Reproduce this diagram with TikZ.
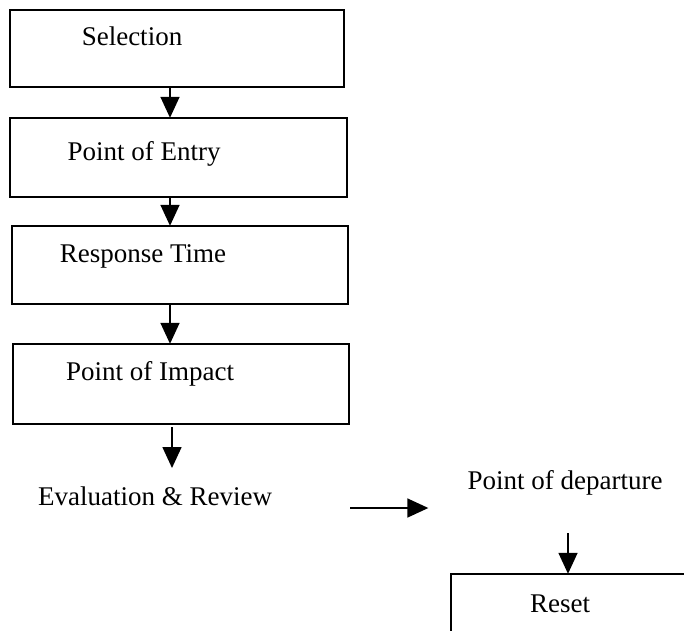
\documentclass[tikz,border=0pt]{standalone}
\usepackage{fontspec}
\setmainfont{Liberation Serif}
\usetikzlibrary{arrows.meta,calc}
\begin{document}
\begin{tikzpicture}[x=1pt,y=-1pt,
  box/.style={draw=black,line width=2.2pt,fill=none},
  lbl/.style={inner sep=0pt,font=\fontsize{27}{32}\selectfont,anchor=base},
  arr/.style={line width=1.6pt,-{Triangle[length=21pt,width=19pt]}}]
\useasboundingbox (0,0) rectangle (684,630);
\clip (0,0) rectangle (684,630);
% boxes
\draw[box] (10,10) rectangle (344,87);
\draw[box] (10,118) rectangle (347,197);
\draw[box] (12,226) rectangle (348,304);
\draw[box] (13,344) rectangle (349,424);
\draw[box] (451,574) rectangle (700,660);
% box anchors for connectors
\node[inner sep=0pt,minimum width=334pt,minimum height=77pt] (sel) at (177,48.5) {};
\node[inner sep=0pt,minimum width=337pt,minimum height=79pt] (ent) at (178.5,157.5) {};
\node[inner sep=0pt,minimum width=336pt,minimum height=78pt] (res) at (180,265) {};
\node[inner sep=0pt,minimum width=336pt,minimum height=80pt] (imp) at (181,384) {};
\node[inner sep=0pt,minimum width=260pt,minimum height=80pt] (rst) at (581,614) {};
% labels
\node[lbl] (tsel) at (132,45) {Selection};
\node[lbl] (tent) at (144,160) {Point of Entry};
\node[lbl] (tres) at (143,262) {Response Time};
\node[lbl] (timp) at (150,380) {Point of Impact};
\node[lbl] (eval) at (155,505) {Evaluation \& Review};
\node[lbl] (dep) at (565,489) {Point of departure};
\node[lbl] (trst) at (560,612) {Reset};
% connectors
\coordinate (ax) at (170,0);
\coordinate (bx) at (172,0);
\draw[arr] (sel.south -| ax) -- (ent.north -| ax);
\draw[arr] (ent.south -| ax) -- (res.north -| ax);
\draw[arr] (res.south -| ax) -- (imp.north -| ax);
\draw[arr] ($(imp.south -| bx)+(0,3)$) -- ($(eval.base -| bx)+(0,-37)$);
\draw[arr] ($(eval.base east)+(78,3)$) -- ($(dep.base west)+(-39,19)$);
\draw[arr] ($(dep.base)+(3,44)$) -- (rst.north -| 568,0);
\end{tikzpicture}
\end{document}
